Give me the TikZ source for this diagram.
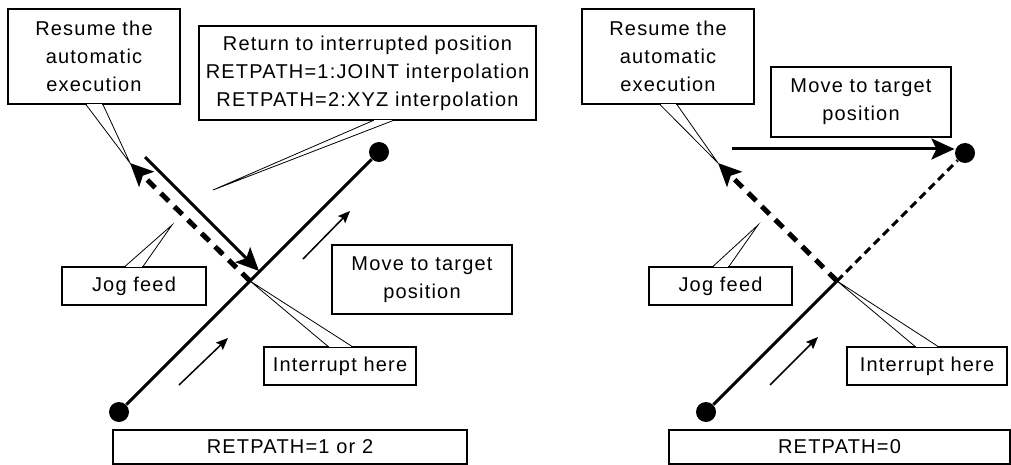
\documentclass[tikz,border=0pt]{standalone}
\usepackage{fontspec}
\setmainfont{Liberation Sans}[LetterSpace=6]
\usetikzlibrary{arrows.meta, calc}
\tikzset{
  every picture/.style={line width=1.2pt},
  callbox/.style={draw, fill=white, align=center, inner sep=0pt, font=\fontsize{20}{28}\selectfont},
  route/.style={line width=3pt},
  jog/.style={line width=5pt, dash pattern=on 11pt off 8pt},
  thindash/.style={line width=3pt, dash pattern=on 8pt off 5pt},
  bigtip/.style={-{Stealth[length=23pt, width=21pt, inset=5pt]}},
  heading/.style={line width=1.5pt, -{Stealth[length=12pt, width=10pt, inset=2pt]}},
  pointer/.style={line width=0.8pt},
  dot/.style={circle, fill, inner sep=0pt, minimum size=20pt},
}

\begin{document}
\begin{tikzpicture}[x=1pt, y=-1pt]
  \useasboundingbox (0,0) rectangle (1011,465);
  % left panel: RETPATH=1 or 2
  \node[dot] (startL) at (119,412) {};
  \node[dot] (endL) at (379,152) {};
  \coordinate (stopL) at (250,281);
  \coordinate (jogL) at (130,163);
  \coordinate (backL) at (145,157);
  \coordinate (hitL) at (259,271);
  \coordinate (noteL) at (213,190);
  \coordinate (feedL) at (172,225);
  \draw[route] (startL) -- (endL);
  \draw[jog, bigtip] (stopL) -- (jogL);
  \draw[route, bigtip] (backL) -- (hitL);
  \draw[heading] (179,385) -- (228,338);
  \draw[heading] (303,259) -- (350,211);
  \node[callbox, minimum width=172pt, minimum height=95pt] (resumeL) at (94,56.5) {Resume the\\automatic\\execution};
  \node[callbox, minimum width=337pt, minimum height=94pt] (returnL) at (367.5,73) {Return to interrupted position\\RETPATH=1:JOINT interpolation\\RETPATH=2:XYZ interpolation};
  \node[callbox, minimum width=144pt, minimum height=38pt] (feedboxL) at (134,286) {Jog feed};
  \node[callbox, minimum width=180pt, minimum height=69pt] (moveL) at (422,279.5) {Move to target\\position};
  \node[callbox, minimum width=152pt, minimum height=38pt] (stopboxL) at (340,366) {Interrupt here};
  \node[callbox, minimum width=354pt, minimum height=34pt] (modeL) at (290,447) {RETPATH=1 or 2};

  % right panel: RETPATH=0
  \node[dot] (startR) at (706,412) {};
  \node[dot] (endR) at (965,153) {};
  \coordinate (stopR) at (837,281);
  \coordinate (jogR) at (718,163);
  \coordinate (goR) at (732,149);
  \coordinate (feedR) at (758,225);
  \draw[route] (startR) -- (stopR);
  \draw[thindash] (stopR) -- (endR);
  \draw[jog, bigtip] (stopR) -- (jogR);
  \draw[route, bigtip] (goR) -- (goR -| endR.west);
  \draw[heading] (770,385) -- (818,337);
  \node[callbox, minimum width=172pt, minimum height=95pt] (resumeR) at (668,56.5) {Resume the\\automatic\\execution};
  \node[callbox, minimum width=180pt, minimum height=70pt] (moveR) at (861,102) {Move to target\\position};
  \node[callbox, minimum width=143pt, minimum height=38pt] (feedboxR) at (720.5,286) {Jog feed};
  \node[callbox, minimum width=160pt, minimum height=38pt] (stopboxR) at (927,366) {Interrupt here};
  \node[callbox, minimum width=341pt, minimum height=34pt] (modeR) at (839.5,447) {RETPATH=0};

  % callout pointers
  \foreach \b/\a/\l/\r/\t in {resumeL/south/-8/9/jogL, returnL/south/5.5/25.5/noteL, feedboxL/north/-9/9/feedL,
                              stopboxL/north/-12/12/stopL, resumeR/south/-8/9/jogR, feedboxR/north/-7.5/8.5/feedR,
                              stopboxR/north/-12/11/stopR} {
    \draw[white, line width=2pt] ($(\b.\a)+(\l+1,0)$) -- ($(\b.\a)+(\r-1,0)$);
    \draw[pointer] ($(\b.\a)+(\l,0)$) -- (\t) -- ($(\b.\a)+(\r,0)$);
  }
\end{tikzpicture}
\end{document}
